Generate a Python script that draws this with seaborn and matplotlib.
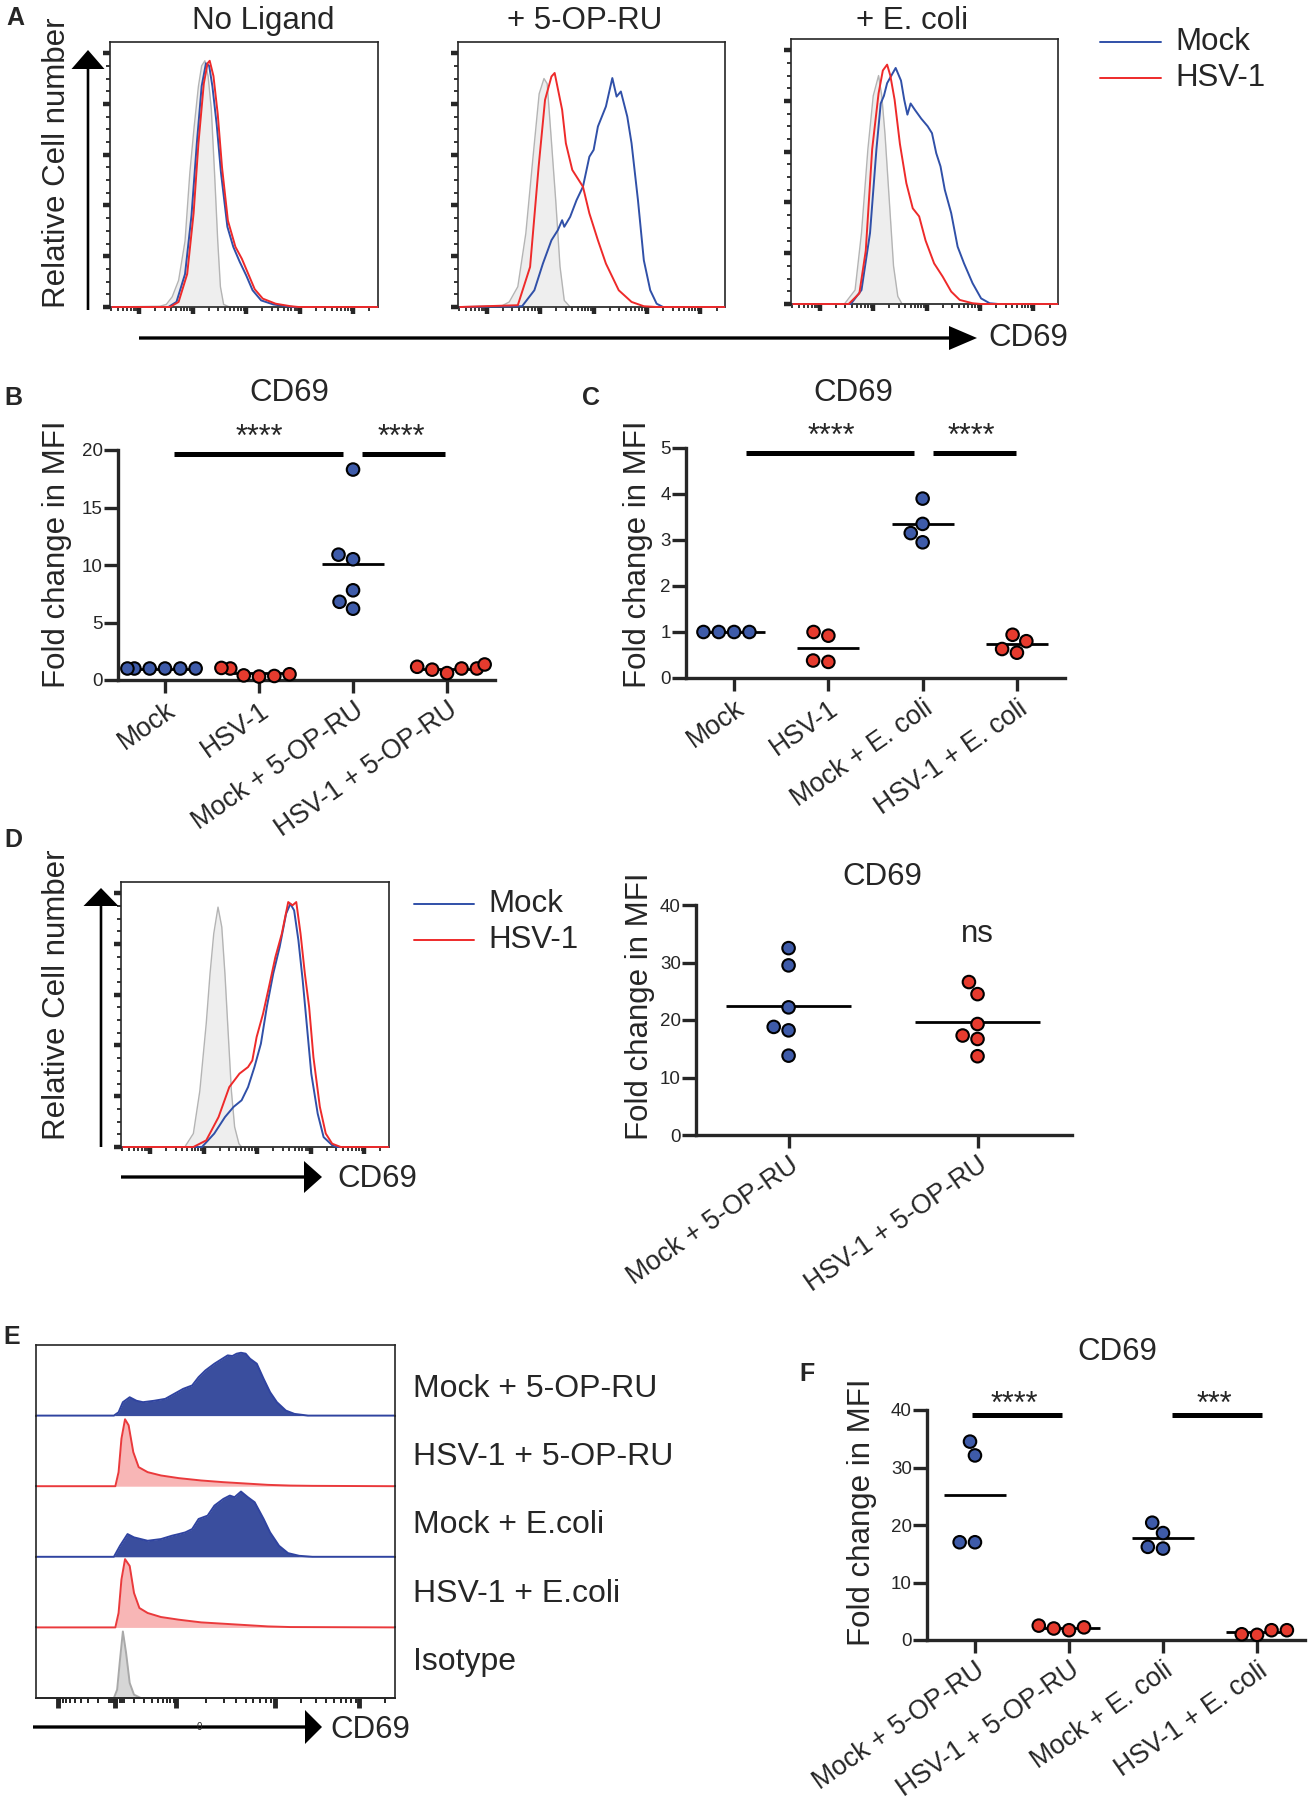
import numpy as np
import pandas as pd
import matplotlib
matplotlib.use("Agg")
import matplotlib.pyplot as plt
from matplotlib.patches import FancyArrow
from matplotlib.ticker import FixedLocator, MultipleLocator, LogLocator
import seaborn as sns

sns.set_style("ticks")
plt.rcParams['font.family'] = ['Liberation Sans', 'DejaVu Sans']

# ======================= DATA =======================
# Panel A histograms: x = log10 CD69 intensity, y = % of max
a_titles = ["No Ligand", "+ 5-OP-RU", "+ E. coli"]
a1_iso_x = [0.50, 1.39, 1.51, 1.62, 1.74, 1.86, 1.95, 2.03, 2.11, 2.17, 2.23, 2.29, 2.35, 2.41, 2.47, 2.52, 2.58, 2.69, 5.45]
a1_iso_y = [0, 0.3, 1, 4, 10.5, 26, 53, 71, 87, 95, 97, 91, 78, 53, 26, 8, 1, 0, 0]
a1_mock_x = [0.50, 1.55, 1.70, 1.86, 1.98, 2.08, 2.17, 2.25, 2.31, 2.37, 2.45, 2.53, 2.65, 2.76, 2.88, 3.00, 3.12, 3.28, 3.51, 3.75, 3.90, 5.45]
a1_mock_y = [0, 0, 2, 13, 36, 64.5, 87, 96, 95, 87, 72, 53, 31.6, 23.7, 17.8, 12.5, 6.6, 2.6, 1, 0.3, 0, 0]
a1_hsv_x = [0.50, 1.58, 1.74, 1.90, 2.02, 2.11, 2.21, 2.28, 2.32, 2.39, 2.47, 2.55, 2.66, 2.80, 2.92, 3.04, 3.16, 3.31, 3.55, 3.83, 3.98, 5.45]
a1_hsv_y = [0, 0, 2, 13, 37, 64.5, 88, 96, 97, 91, 76, 55, 34, 23.7, 19, 13, 7, 3.3, 1.3, 0.3, 0, 0]

a2_iso_x = [0.50, 1.27, 1.42, 1.58, 1.73, 1.86, 1.98, 2.07, 2.13, 2.20, 2.29, 2.37, 2.45, 2.56, 5.45]
a2_iso_y = [0, 0.3, 2, 8, 29, 58, 84, 90, 88, 68, 42, 16, 2.6, 0, 0]
a2_mock_x = [0.50, 1.66, 1.89, 2.05, 2.21, 2.33, 2.41, 2.45, 2.56, 2.68, 2.80, 2.92, 3.00, 3.08, 3.23, 3.35, 3.43, 3.51, 3.63, 3.71, 3.83, 3.94, 4.06, 4.18, 4.30, 5.45]
a2_mock_y = [0, 0.3, 6.6, 17.1, 26.3, 30.3, 34.2, 31.6, 35.5, 42.1, 47.4, 59.2, 61.9, 71.1, 79, 90.2, 82.9, 84.9, 75, 64.5, 42.1, 18.4, 6.6, 1.3, 0, 0]
a2_hsv_x = [0.50, 1.58, 1.81, 1.97, 2.09, 2.21, 2.27, 2.41, 2.48, 2.60, 2.80, 2.92, 3.08, 3.23, 3.47, 3.71, 3.94, 4.18, 5.45]
a2_hsv_y = [0, 0.7, 15.8, 55.3, 81.6, 90.8, 92.2, 77.7, 64.5, 54, 47.4, 36.9, 26.3, 17.1, 6.6, 2, 0.3, 0, 0]

a3_iso_x = [0.50, 1.46, 1.66, 1.78, 1.90, 2.00, 2.10, 2.16, 2.22, 2.30, 2.38, 2.46, 2.54, 5.45]
a3_iso_y = [0, 0, 5.5, 28, 61, 82, 90, 82, 67, 41, 15, 3, 0, 0]
a3_mock_x = [0.50, 1.58, 1.78, 1.94, 2.06, 2.14, 2.20, 2.26, 2.34, 2.42, 2.52, 2.58, 2.64, 2.70, 2.78, 2.90, 3.02, 3.10, 3.18, 3.26, 3.34, 3.46, 3.58, 3.70, 3.86, 4.02, 4.18, 4.34, 5.45]
a3_mock_y = [0, 0, 5.5, 28, 61, 79, 82, 87, 90, 93, 88, 80.5, 74.6, 79, 76.5, 73, 70, 67.3, 59.4, 54.2, 45, 35.8, 22.6, 16, 8.2, 2.2, 0.3, 0, 0]
a3_hsv_x = [0.50, 1.54, 1.74, 1.86, 1.98, 2.10, 2.18, 2.26, 2.32, 2.40, 2.50, 2.62, 2.74, 2.86, 2.98, 3.14, 3.30, 3.46, 3.62, 3.86, 4.02, 5.45]
a3_hsv_y = [0, 0, 4.2, 21, 61, 83, 92, 94.3, 90, 80.5, 63, 47.6, 37.7, 34.5, 25, 16, 10.8, 4.9, 1.6, 0.3, 0, 0]

# Panel D histogram
d_iso_x = [0.50, 1.65, 1.81, 1.93, 2.05, 2.12, 2.19, 2.27, 2.34, 2.40, 2.45, 2.52, 2.58, 2.66, 2.71, 5.45]
d_iso_y = [0, 0, 5.3, 22, 48.6, 68, 84, 94.5, 86.7, 68, 48.6, 22, 7.9, 1.3, 0, 0]
d_mock_x = [0.50, 1.97, 2.20, 2.40, 2.56, 2.71, 2.83, 2.95, 3.07, 3.18, 3.30, 3.42, 3.54, 3.62, 3.69, 3.77, 3.85, 3.93, 4.01, 4.13, 4.24, 4.40, 4.48, 5.45]
d_mock_y = [0, 0, 5.3, 11.8, 15.8, 18.4, 23.6, 31.5, 40.7, 55.1, 68.3, 78.8, 91.9, 95.8, 93.2, 81.4, 65.6, 47.3, 28.9, 13.1, 3.9, 0.7, 0, 0]
d_hsv_x = [0.50, 1.81, 2.05, 2.28, 2.48, 2.67, 2.83, 2.91, 2.99, 3.11, 3.22, 3.34, 3.46, 3.58, 3.66, 3.73, 3.81, 3.89, 3.97, 4.05, 4.17, 4.28, 4.40, 4.56, 5.45]
d_hsv_y = [0, 0, 2.6, 11.8, 23.6, 28.9, 31.5, 34.1, 43.3, 52.5, 63, 74.8, 84, 96.5, 95.2, 96.5, 84, 68.3, 55.1, 35.4, 15.8, 5.3, 1.3, 0, 0]

# Panel E offset histograms (channel units 0-1000, % of row height)
e_labels = ["Mock + 5-OP-RU", "HSV-1 + 5-OP-RU", "Mock + E.coli", "HSV-1 + E.coli", "Isotype"]
e_mock_op_x = [0, 217, 230, 242, 261, 280, 298, 329, 360, 385, 410, 435, 453, 472, 497, 522, 534, 547, 559, 571, 584, 596, 615, 634, 652, 671, 696, 720, 758, 1000]
e_mock_op_y = [0, 0, 4.7, 19, 26, 21, 19, 21, 23.7, 30.8, 37.9, 42.7, 54.5, 64, 73.5, 81.5, 85.3, 84.4, 87.7, 89, 87.7, 80.6, 73.5, 52.1, 33.2, 19, 7.1, 2.4, 0, 0]
e_hsv_op_x = [0, 221, 230, 238, 248, 258, 271, 286, 311, 348, 398, 460, 522, 584, 646, 708, 770, 1000]
e_hsv_op_y = [0, 0, 19.9, 67.3, 94.8, 86.3, 48.3, 27, 19.9, 15.2, 11.4, 8.1, 5.7, 3.8, 1.9, 0.9, 0.5, 0]
e_mock_ec_x = [0, 217, 234, 255, 273, 311, 348, 379, 398, 416, 435, 453, 478, 497, 522, 540, 553, 571, 590, 609, 634, 652, 677, 702, 733, 770, 1000]
e_mock_ec_y = [0, 0, 15.6, 32.2, 27.5, 22.7, 25.1, 29.9, 32.2, 34.6, 39.3, 53.6, 58.3, 72.5, 82, 86.7, 84.4, 92.4, 84.4, 77.3, 53.6, 34.6, 15.6, 5.2, 1.4, 0, 0]
e_hsv_ec_x = [0, 221, 230, 238, 248, 261, 273, 288, 311, 348, 398, 460, 522, 584, 646, 708, 1000]
e_hsv_ec_y = [0, 0, 20.4, 67.8, 96.7, 87, 48.8, 27.5, 20.4, 14.7, 10.9, 7.1, 5.2, 3.3, 1.4, 0.5, 0]
e_iso_x = [0, 217, 226, 234, 242, 251, 261, 273, 292, 1000]
e_iso_y = [0, 0, 11.8, 54.5, 94.3, 63.6, 21.3, 4.7, 0, 0]
e_major_ticks = [60, 221, 391, 667, 901]

# Panel B
b_cats = ["Mock", "HSV-1", "Mock + 5-OP-RU", "HSV-1 + 5-OP-RU"]
b_mock = [1.0, 1.0, 1.0, 1.0, 1.0, 1.0]
b_hsv = [0.5, 1.0, 0.3, 1.05, 0.35, 0.4]
b_mock_op = [18.3, 10.9, 10.5, 7.8, 6.2, 6.8]
b_hsv_op = [1.0, 0.6, 1.35, 1.15, 0.9, 1.0]
b_sig = [(0.10, 1.89, 19.65, 20.37, 1.0, "****"), (2.10, 2.98, 19.65, 20.37, 2.51, "****")]

# Panel C
c_cats = ["Mock", "HSV-1", "Mock + E. coli", "HSV-1 + E. coli"]
c_mock = [1.0, 1.0, 1.0, 1.0]
c_hsv = [1.0, 0.92, 0.35, 0.38]
c_mock_ec = [3.9, 3.35, 3.15, 2.95]
c_hsv_ec = [0.8, 0.55, 0.63, 0.94]
c_sig = [(0.13, 1.91, 4.9, 5.07, 1.03, "****"), (2.11, 2.99, 4.9, 5.07, 2.52, "****")]

# Panel D (right)
d_cats = ["Mock + 5-OP-RU", "HSV-1 + 5-OP-RU"]
d_mock = [32.5, 29.5, 22.2, 18.8, 18.2, 13.8]
d_hsv = [26.6, 24.5, 19.3, 17.3, 16.7, 13.7]

# Panel F
f_cats = ["Mock + 5-OP-RU", "HSV-1 + 5-OP-RU", "Mock + E. coli", "HSV-1 + E. coli"]
f_mock_op = [34.5, 32.1, 17.0, 17.0]
f_hsv_op = [2.2, 1.7, 2.0, 2.5]
f_mock_ec = [20.4, 18.6, 15.9, 16.2]
f_hsv_ec = [1.7, 0.9, 1.0, 1.7]
f_sig = [(-0.03, 0.93, 39.1, 39.5, 0.42, "****"), (2.10, 3.05, 39.1, 39.5, 2.55, "***")]

# ======================= STYLE =======================
BLUE_DOT = "#3E5BA9"
RED_DOT = "#E63B2E"
LINE_BLUE = "#3050A8"
LINE_RED = "#EE2A2A"
ISO_FILL = "#EEEEEE"
ISO_LINE = "#B4B4B4"
E_BLUE_FILL = "#3A4E9E"
E_BLUE_LINE = "#2F43A0"
E_RED_FILL = "#F8B6B6"
E_RED_LINE = "#EA3A3C"
E_ISO_FILL = "#D6D6D6"
E_ISO_LINE = "#A9A9A9"

W, H = 1309, 1800
fig = plt.figure(figsize=(W / 100, H / 100), dpi=100)
fig.patch.set_facecolor("white")


def px_axes(x0, y0, x1, y1):
    ax = fig.add_axes([x0 / W, 1 - y1 / H, (x1 - x0) / W, (y1 - y0) / H])
    ax.patch.set_alpha(0)
    return ax


def flow_hist(box, iso, curves):
    ax = px_axes(*box)
    ax.set_xscale('log')
    ix = 10 ** np.asarray(iso[0])
    ax.fill_between(ix, iso[1], color=ISO_FILL, lw=0, zorder=1)
    sns.lineplot(x=ix, y=iso[1], color=ISO_LINE, lw=1.0, estimator=None, sort=False, ax=ax, zorder=2)
    for (cx, cy), col in curves:
        sns.lineplot(x=10 ** np.asarray(cx), y=cy, color=col, lw=1.4, estimator=None,
                     sort=False, ax=ax, zorder=3)
    ax.set_xlim(10 ** 0.46, 10 ** 5.46)
    ax.set_ylim(0, 104.4)
    ax.yaxis.set_major_locator(FixedLocator([0, 20, 40, 60, 80, 100]))
    ax.yaxis.set_minor_locator(MultipleLocator(5))
    ax.xaxis.set_major_locator(LogLocator(base=10, numticks=12))
    ax.xaxis.set_minor_locator(LogLocator(base=10, subs=np.arange(2, 10), numticks=12))
    ax.tick_params(which='major', direction='out', length=5, width=3.2,
                   labelleft=False, labelbottom=False, top=False, right=False)
    ax.tick_params(which='minor', direction='out', length=3, width=1.3, top=False, right=False)
    for s in ax.spines.values():
        s.set_linewidth(1.2)
    ax.set_xlabel('')
    ax.set_ylabel('')
    for l in ax.lines:
        l.set_clip_on(False)
    return ax


def dot_panel(box, cats, groups, xlim, ylim, yticks, sig=None):
    ax = px_axes(*box)
    df = pd.DataFrame({'cat': np.repeat(cats, [len(g) for g in groups]),
                       'val': np.concatenate(groups)})
    cols = [BLUE_DOT if c.startswith('Mock') else RED_DOT for c in cats]
    for i, g in enumerate(groups):
        ax.hlines(np.mean(g), i - 0.33, i + 0.33, color='black', lw=2.0, zorder=2)
    sns.swarmplot(data=df, x='cat', y='val', hue='cat', order=cats, hue_order=cats,
                  palette=cols, size=9, edgecolor='black', linewidth=1.5, legend=False,
                  ax=ax, zorder=3)
    ax.set_xlim(*xlim)
    ax.set_ylim(*ylim)
    ax.set_yticks(yticks)
    ax.set_xticks(range(len(cats)))
    ax.set_xticklabels(cats, rotation=35, ha='right', rotation_mode='anchor', fontsize=19.2)
    ax.set_xlabel('')
    ax.set_ylabel('')
    sns.despine(ax=ax)
    for s in ['left', 'bottom']:
        ax.spines[s].set_linewidth(2.4)
    ax.tick_params(axis='both', width=2.4, direction='out')
    ax.tick_params(axis='y', length=10, labelsize=13.5, pad=1)
    ax.tick_params(axis='x', length=9.5, pad=3)
    if sig:
        for x0, x1, yb, ys, xs, s in sig:
            ax.plot([x0, x1], [yb, yb], color='black', lw=3.6, solid_capstyle='butt', clip_on=False)
            ax.text(xs, ys, s, ha='center', va='baseline', fontsize=22, clip_on=False)
    for c in ax.collections:
        c.set_clip_on(False)
    for l in ax.lines:
        l.set_clip_on(False)
    return ax


# ---------------- Panel A ----------------
flow_hist((110, 42, 378, 307), (a1_iso_x, a1_iso_y),
          [((a1_mock_x, a1_mock_y), LINE_BLUE), ((a1_hsv_x, a1_hsv_y), LINE_RED)])
flow_hist((458, 42, 725, 307), (a2_iso_x, a2_iso_y),
          [((a2_mock_x, a2_mock_y), LINE_BLUE), ((a2_hsv_x, a2_hsv_y), LINE_RED)])
flow_hist((791, 39, 1058, 304), (a3_iso_x, a3_iso_y),
          [((a3_mock_x, a3_mock_y), LINE_BLUE), ((a3_hsv_x, a3_hsv_y), LINE_RED)])

# ---------------- Panel D histogram ----------------
flow_hist((121, 882, 389, 1147), (d_iso_x, d_iso_y),
          [((d_mock_x, d_mock_y), LINE_BLUE), ((d_hsv_x, d_hsv_y), LINE_RED)])

# ---------------- Dot plots ----------------
dot_panel((118, 450, 495, 680), b_cats, [b_mock, b_hsv, b_mock_op, b_hsv_op],
          (-0.5, 3.51), (0, 20), [0, 5, 10, 15, 20], b_sig)
dot_panel((686, 448, 1065, 678), c_cats, [c_mock, c_hsv, c_mock_ec, c_hsv_ec],
          (-0.51, 3.51), (0, 5), [0, 1, 2, 3, 4, 5], c_sig)
axd = dot_panel((696, 905, 1072, 1135), d_cats, [d_mock, d_hsv],
                (-0.49, 1.5), (0, 40), [0, 10, 20, 30, 40])
axd.text(1.0, 33.6, "ns", ha='center', va='baseline', fontsize=22.5)
dot_panel((927, 1410, 1305, 1640), f_cats, [f_mock_op, f_hsv_op, f_mock_ec, f_hsv_ec],
          (-0.51, 3.51), (0, 40), [0, 10, 20, 30, 40], f_sig)

# ---------------- Panel E ----------------
e_series = [((e_mock_op_x, e_mock_op_y), E_BLUE_FILL, E_BLUE_LINE),
            ((e_hsv_op_x, e_hsv_op_y), E_RED_FILL, E_RED_LINE),
            ((e_mock_ec_x, e_mock_ec_y), E_BLUE_FILL, E_BLUE_LINE),
            ((e_hsv_ec_x, e_hsv_ec_y), E_RED_FILL, E_RED_LINE),
            ((e_iso_x, e_iso_y), E_ISO_FILL, E_ISO_LINE)]
ey0, ey1 = 1345, 1698
row_h = (ey1 - ey0) / 5
for i, ((ex, eyv), fc, lc) in enumerate(e_series):
    ax = px_axes(36, ey0 + i * row_h, 395, ey0 + (i + 1) * row_h)
    ax.fill_between(ex, eyv, color=fc, lw=0, zorder=1)
    sns.lineplot(x=ex, y=eyv, color=lc, lw=1.4, estimator=None, sort=False, ax=ax, zorder=2)
    ax.set_xlim(0, 1000)
    ax.set_ylim(0, 100)
    ax.set_xlabel('')
    ax.set_ylabel('')
    for s in ['left', 'right']:
        ax.spines[s].set_linewidth(1.2)
    ax.spines['top'].set_visible(i == 0)
    ax.spines['top'].set_linewidth(1.2)
    ax.spines['bottom'].set_visible(i == 4)
    ax.spines['bottom'].set_linewidth(1.4)
    for l in ax.lines:
        l.set_clip_on(False)
    ax.set_yticks([])
    if i == 4:
        minors = []
        for a, b in [(221, 391), (391, 667), (667, 901)]:
            minors += [a + np.log10(k) * (b - a) for k in range(2, 10)]
        minors += [221 - np.log10(k) * (221 - 60) for k in range(2, 10)]
        minors += [901 + np.log10(2) * (901 - 667)]
        minors += [203, 209, 215, 227, 233, 239, 245]
        ax.set_xticks(e_major_ticks)
        ax.set_xticks(minors, minor=True)
        ax.tick_params(which='major', direction='out', length=7, width=3.5, labelbottom=False)
        ax.tick_params(which='minor', direction='out', length=3.5, width=1.4)
    else:
        ax.set_xticks([])

# ---------------- Overlay: arrows and legend lines ----------------
ov = fig.add_axes([0, 0, 1, 1], zorder=10)
ov.set_xlim(0, W)
ov.set_ylim(H, 0)
ov.axis('off')
ov.patch.set_alpha(0)


def T(x, y, s, size=22.5, **kw):
    ha = kw.pop('ha', 'center')
    va = kw.pop('va', 'center')
    fig.text(x / W, 1 - y / H, s, fontsize=size, ha=ha, va=va, zorder=20, **kw)


def arrow(x, y, dx, dy, w, hw, hl):
    ov.add_patch(FancyArrow(x, y, dx, dy, width=w, head_width=hw, head_length=hl,
                            length_includes_head=True, color='black', lw=0))


# panel letters
for lx, ly, s in [(15, 18, "A"), (13, 398, "B"), (591, 398, "C"), (13, 840, "D"),
                  (12, 1337, "E"), (807, 1374, "F")]:
    T(lx, ly, s, size=18, weight='bold')

# Panel A
for cx, s in zip([263, 585, 912], a_titles):
    T(cx, 21, s)
T(57, 163, "Relative Cell number", rotation=90)
arrow(88, 310, 0, -260, 2.6, 33, 19)
arrow(139, 338, 838, 0, 3.3, 24, 28)
T(988, 338, "CD69", ha='left')
ov.plot([1100, 1161], [42, 42], color=LINE_BLUE, lw=1.4)
ov.plot([1100, 1161], [78, 78], color=LINE_RED, lw=1.4)
T(1175, 42, "Mock", ha='left')
T(1175, 78, "HSV-1", ha='left')

# Panel B / C titles and labels
T(289, 393, "CD69")
T(853, 393, "CD69")
T(57, 554, "Fold change in MFI", rotation=90)
T(638, 554, "Fold change in MFI", rotation=90)

# Panel D
T(57, 995, "Relative Cell number", rotation=90)
arrow(101, 1147, 0, -259, 2.6, 35, 18)
arrow(121, 1177, 201, 0, 3.3, 32, 18)
T(337, 1179, "CD69", ha='left')
ov.plot([414, 474], [904, 904], color=LINE_BLUE, lw=1.4)
ov.plot([414, 474], [940, 940], color=LINE_RED, lw=1.4)
T(488, 904, "Mock", ha='left')
T(488, 940, "HSV-1", ha='left')
T(882, 877, "CD69")
T(640, 1006, "Fold change in MFI", rotation=90)

# Panel E
for yy, s in zip([1389, 1457, 1525, 1594, 1662], e_labels):
    T(413, yy, s, size=23, ha='left')
arrow(33, 1727, 289, 0, 3.3, 34, 17)
T(199, 1727, "0", size=7)
T(330, 1730, "CD69", ha='left')

# Panel F
T(1117, 1352, "CD69")
T(862, 1512, "Fold change in MFI", rotation=90)

fig.savefig("out.png", dpi=100, facecolor="white")
